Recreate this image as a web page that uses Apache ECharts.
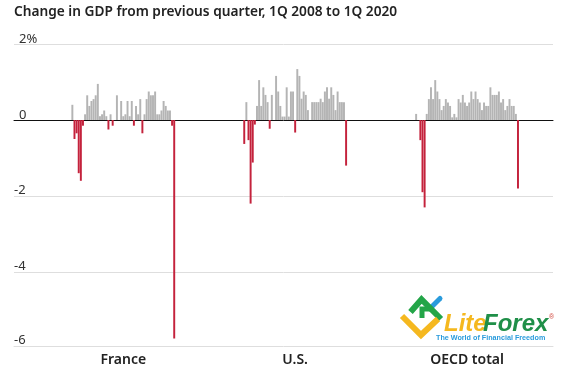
<!DOCTYPE html>
<html><head><meta charset="utf-8">
<style>html,body{margin:0;padding:0;background:#fff}#c{width:567px;height:380px}</style>
<script src="https://cdn.jsdelivr.net/npm/echarts@6/dist/echarts.min.js"></script>
</head><body><div id="c"></div>
<script>
const france=[0.4,-0.5,-0.35,-1.4,-1.6,-0.15,0.15,0.65,0.37,0.5,0.55,0.65,0.95,0.1,0.15,0.25,0.1,-0.25,0.15,-0.15,0,0.65,0,0.5,0.1,0.15,0.5,0.1,0.5,-0.15,0.37,0.15,0.55,-0.35,0.15,0.55,0.75,0.65,0.65,0.75,0.15,0.15,0.25,0.5,0.37,0.25,0.25,-0.15,-5.75];
const us=[-0.63,0.47,-0.53,-2.2,-1.12,-0.12,0.37,1.05,0.37,0.86,0.66,0.47,-0.23,0.66,0,1.16,0.75,0.37,0.09,0.09,0.86,0.09,0.75,0.75,-0.33,1.34,1.16,0.56,0.75,0.66,0.26,0,0.47,0.47,0.47,0.47,0.56,0.47,0.75,0.86,0.56,0.86,0.66,0.26,0.75,0.47,0.47,0.47,-1.2];
const oecd=[0.16,0,-0.53,-1.9,-2.3,0.16,0.55,0.86,0.55,1.05,0.75,0.55,0.26,0.37,0.55,0.46,0.37,0.07,0.16,0.07,0.55,0.46,0.66,0.46,0.37,0.46,0.75,0.55,0.75,0.55,0.46,0.26,0.46,0.37,0.37,0.86,0.66,0.66,0.66,0.75,0.46,0.55,0.26,0.37,0.55,0.37,0.37,0.16,-1.8];
const panelNames=['France','U.S.','OECD total'];
const yTicks={'2':'{p|2%}','0':'{p|0}','-2':'{n|-2}','-4':'{n|-4}','-6':'{b|-6}'};
const lead=27,gap=32,trail=16;
const blanks=n=>Array(n).fill(null);
const values=[].concat(blanks(lead),france,blanks(gap),us,blanks(gap),oecd,blanks(trail));
const mid=i=>lead+i*(49+gap)+24;
const cats=values.map((_,i)=>{const k=[0,1,2].find(p=>mid(p)===i);return k===undefined?'':panelNames[k];});
const FONT='"Noto Sans"';
const lab={fontFamily:FONT,fontSize:13,color:'#333',lineHeight:10};
const chart=echarts.init(document.getElementById('c'),null,{renderer:'canvas'});
chart.setOption({
 animation:false,
 title:{text:'Change in GDP from previous quarter, 1Q 2008 to 1Q 2020',left:14,top:5,padding:0,
  textStyle:{fontFamily:FONT,fontWeight:600,fontSize:13.7,color:'#222'}},
 grid:{left:14,right:14,top:44,height:304},
 xAxis:[
  {type:'category',data:cats,axisLine:{onZero:true,lineStyle:{color:'#111',width:1}},axisTick:{show:false},axisLabel:{show:false}},
  {type:'category',position:'bottom',offset:-1.5,data:cats,axisLine:{onZero:false,show:true,lineStyle:{color:'#dedede',width:1}},axisTick:{show:false},
   axisLabel:{show:true,interval:0,margin:7,hideOverlap:false,fontFamily:FONT,fontWeight:600,fontSize:14,color:'#222'}}
 ],
 yAxis:{type:'value',min:-6,max:2,interval:2,axisLine:{show:false},axisTick:{show:false},
  splitLine:{lineStyle:{color:['transparent','#dedede','#dedede','transparent','#dedede'],width:1}},
  axisLabel:{inside:true,margin:0,verticalAlign:'bottom',align:'left',
   rich:{p:Object.assign({},lab,{padding:[0,0,0,5]}),n:Object.assign({},lab,{padding:[0,0,2,0]}),b:Object.assign({},lab,{padding:[0,0,5,0]})},
   formatter:v=>yTicks[String(v)]}},
 series:[
  {type:'bar',xAxisIndex:0,barGap:'-100%',barCategoryGap:'8%',silent:true,itemStyle:{color:'#b4b4b4'},
   data:values.map(v=>v!==null&&v>0?v:null)},
  {type:'bar',xAxisIndex:0,barGap:'-100%',barCategoryGap:'8%',silent:true,itemStyle:{color:'#c4223c'},
   data:values.map(v=>v!==null&&v<0?v:null)}
 ],
 graphic:[
  {type:'polyline',z:50,shape:{points:[[410.5,312],[421.5,299.5],[441,319]]},style:{stroke:'#23a548',lineWidth:6,fill:null}},
  {type:'polyline',z:50,shape:{points:[[422,318],[422,309],[431,309]]},style:{stroke:'#23a548',lineWidth:5,fill:null}},
  {type:'polyline',z:50,shape:{points:[[402,316],[421,335],[438,319]]},style:{stroke:'#f5b81f',lineWidth:6,fill:null}},
  {type:'polyline',z:49,shape:{points:[[432,306.5],[440,298.5]]},style:{stroke:'#2a9bdc',lineWidth:5,lineCap:'round',fill:null}},
  {type:'text',z:51,left:444,top:312,style:{text:'Lite',font:'italic bold 24px "Liberation Sans"',fill:'#f5b81f'}},
  {type:'text',z:51,left:483,top:312,style:{text:'Forex',font:'italic bold 24px "Liberation Sans"',fill:'#1f8f48'}},
  {type:'text',z:51,left:436,top:335,style:{text:'The World of Financial Freedom',font:'bold 7.2px "Liberation Sans"',fill:'#2a9bdc'}},
  {type:'text',z:51,left:549,top:314,style:{text:'®',font:'7px "Liberation Sans"',fill:'#d0453a'}}
 ]
});
</script></body></html>
